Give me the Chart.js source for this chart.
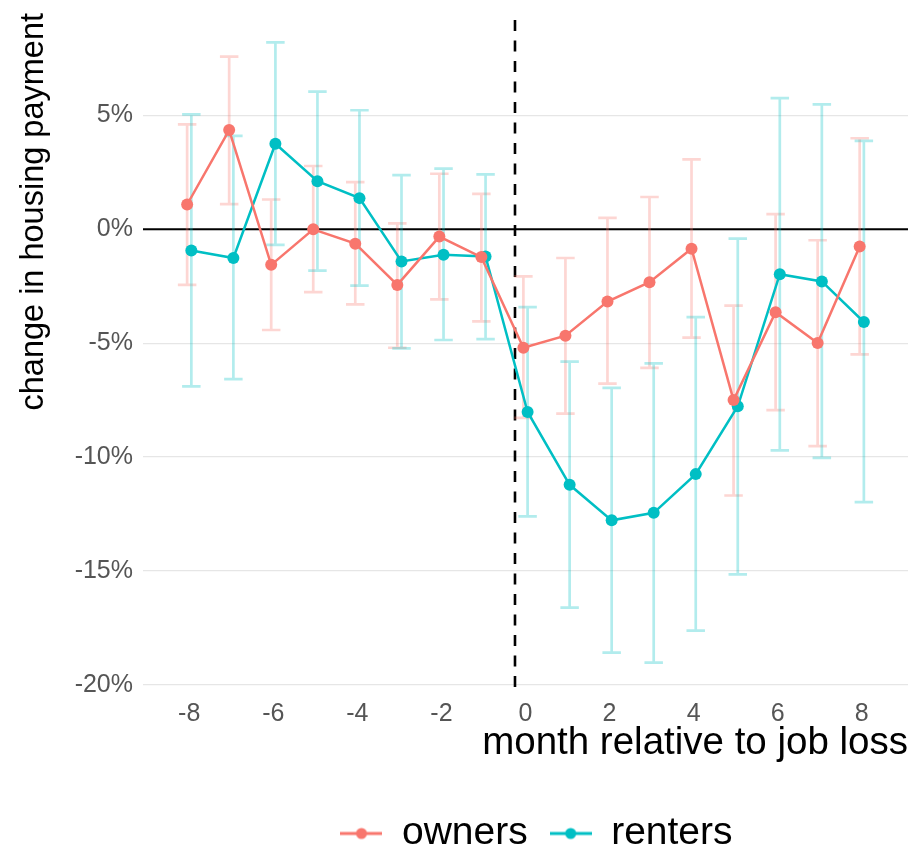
<!DOCTYPE html>
<html>
<head>
<meta charset="utf-8">
<script src="https://cdn.jsdelivr.net/npm/chart.js@4.4.1/dist/chart.umd.min.js"></script>
<style>
  html, body { margin: 0; padding: 0; background: #ffffff; }
  #wrap { width: 915px; height: 853px; }
</style>
</head>
<body>
<div id="wrap"><canvas id="c" width="915" height="853"></canvas></div>
<script>
// ---- data (percent change in housing payment) ----
const months = [-8, -7, -6, -5, -4, -3, -2, -1, 0, 1, 2, 3, 4, 5, 6, 7, 8];
const ownersEst  = [1.09, 4.36, -1.56, 0.00, -0.63, -2.44, -0.32, -1.22, -5.20, -4.67, -3.17, -2.32, -0.85, -7.50, -3.64, -4.99, -0.75];
const ownersLow  = [-2.44, 1.11, -4.42, -2.76, -3.30, -5.20, -3.08, -4.04, -8.28, -8.09, -6.78, -6.08, -4.76, -11.69, -7.94, -9.52, -5.49];
const ownersHigh = [4.61, 7.58, 1.31, 2.78, 2.07, 0.26, 2.44, 1.56, -2.07, -1.26, 0.50, 1.42, 3.07, -3.35, 0.67, -0.48, 4.00];
const rentersEst  = [-0.93, -1.26, 3.76, 2.11, 1.37, -1.41, -1.12, -1.19, -8.02, -11.22, -12.78, -12.45, -10.75, -7.77, -1.97, -2.29, -4.07];
const rentersLow  = [-6.90, -6.58, -0.68, -1.81, -2.47, -5.23, -4.86, -4.82, -12.61, -16.61, -18.59, -19.03, -17.62, -15.15, -9.71, -10.04, -11.98];
const rentersHigh = [5.05, 4.10, 8.21, 6.05, 5.23, 2.38, 2.67, 2.41, -3.42, -5.81, -6.96, -5.89, -3.86, -0.41, 5.76, 5.49, 3.88];
const xTickValues = [-8, -6, -4, -2, 0, 2, 4, 6, 8];
const yTickValues = [5, 0, -5, -10, -15, -20];
const seriesNames = ['owners', 'renters'];
const jobLossMarker = -0.25;

// ---- styling ----
const OWN = '#F8766D', REN = '#00BFC4';
const OWN_ERR = 'rgba(248,118,109,0.30)', REN_ERR = 'rgba(0,191,196,0.30)';
const DODGE = 0.05, CAP = 0.22;
const FONT = "'Liberation Sans', Arial, sans-serif";

function pts(est, shift) { return months.map((m, i) => ({ x: m + shift, y: est[i] })); }

function legendIcon(color) {
  const c = document.createElement('canvas');
  c.width = 42; c.height = 14;
  const g = c.getContext('2d');
  g.strokeStyle = color; g.lineWidth = 3;
  g.beginPath(); g.moveTo(0, 7); g.lineTo(42, 7); g.stroke();
  g.fillStyle = color;
  g.beginPath(); g.arc(21, 7, 5.5, 0, Math.PI * 2); g.fill();
  return c;
}
const icons = [legendIcon(OWN), legendIcon(REN)];

const refLines = {
  id: 'refLines',
  afterLayout(chart) {
    const l = chart.legend;
    if (l) { l.left += 11; l.right += 11; l.top += 10; l.bottom += 10; }
  },
  beforeDatasetsDraw(chart) {
    const { ctx, chartArea: a, scales: { x, y } } = chart;
    ctx.save();
    const y0 = y.getPixelForValue(0);
    ctx.strokeStyle = '#000'; ctx.lineWidth = 2;
    ctx.beginPath(); ctx.moveTo(a.left, y0); ctx.lineTo(a.right, y0); ctx.stroke();
    const xv = x.getPixelForValue(jobLossMarker);
    ctx.setLineDash([11, 9.5]); ctx.lineWidth = 2.6;
    ctx.beginPath(); ctx.moveTo(xv, a.top + 7); ctx.lineTo(xv, a.bottom); ctx.stroke();
    ctx.setLineDash([]);
    const bars = [[ownersLow, ownersHigh, -DODGE, OWN_ERR], [rentersLow, rentersHigh, DODGE, REN_ERR]];
    ctx.lineWidth = 2.7;
    bars.forEach(([lo, hi, sh, col]) => {
      ctx.strokeStyle = col;
      months.forEach((m, i) => {
        const cx = x.getPixelForValue(m + sh);
        const xl = x.getPixelForValue(m + sh - CAP), xr = x.getPixelForValue(m + sh + CAP);
        const yl = y.getPixelForValue(lo[i]), yh = y.getPixelForValue(hi[i]);
        ctx.beginPath();
        ctx.moveTo(cx, yl); ctx.lineTo(cx, yh);
        ctx.moveTo(xl, yl); ctx.lineTo(xr, yl);
        ctx.moveTo(xl, yh); ctx.lineTo(xr, yh);
        ctx.stroke();
      });
    });
    ctx.restore();
  }
};

new Chart(document.getElementById('c'), {
  type: 'scatter',
  data: {
    datasets: [
      { label: seriesNames[0], data: pts(ownersEst, -DODGE), showLine: true,
        borderColor: OWN, backgroundColor: OWN, borderWidth: 2.5,
        pointRadius: 6, pointBorderWidth: 0, pointBackgroundColor: OWN },
      { label: seriesNames[1], data: pts(rentersEst, DODGE), showLine: true,
        borderColor: REN, backgroundColor: REN, borderWidth: 2.5,
        pointRadius: 6, pointBorderWidth: 0, pointBackgroundColor: REN }
    ]
  },
  options: {
    responsive: false,
    animation: false,
    devicePixelRatio: 1,
    layout: { padding: { left: 0, right: 7, top: 13, bottom: 0 } },
    plugins: {
      tooltip: { enabled: false },
      legend: {
        position: 'bottom',
        fullSize: false,
        labels: {
          usePointStyle: true,
          pointStyleWidth: 42,
          padding: 22,
          color: '#000',
          font: { family: FONT, size: 39 },
          generateLabels: (chart) => chart.data.datasets.map((d, i) => ({
            text: d.label, pointStyle: icons[i], fillStyle: d.borderColor,
            strokeStyle: d.borderColor, lineWidth: 0, hidden: false, datasetIndex: i, fontColor: '#000'
          }))
        }
      }
    },
    scales: {
      x: {
        type: 'linear', min: -9.1, max: 9.1,
        afterBuildTicks: s => { s.ticks = xTickValues.map(v => ({ value: v })); },
        afterFit: s => { s.height = 87; s.paddingLeft = 0; s.paddingRight = 0; },
        grid: { display: false, drawTicks: false },
        border: { display: false },
        ticks: { color: '#555', padding: 4, font: { family: FONT, size: 25 } },
        title: { display: true, text: 'month relative to job loss', align: 'end', color: '#000',
                 font: { family: FONT, size: 38.5 }, padding: { top: 0, bottom: 16 } }
      },
      y: {
        type: 'linear', min: -20.45, max: 9.5,
        afterBuildTicks: s => { s.ticks = yTickValues.map(v => ({ value: v })); },
        afterFit: s => { s.width = 143; s.paddingTop = 0; s.paddingBottom = 0; },
        grid: { color: '#E6E6E6', lineWidth: 1.3, drawTicks: false },
        border: { display: false },
        ticks: { color: '#555', padding: 10, font: { family: FONT, size: 25 }, callback: v => v + '%' },
        title: { display: true, text: 'change in housing payment', align: 'end', color: '#000',
                 font: { family: FONT, size: 32.5 }, padding: { top: 15, bottom: 0 } }
      }
    }
  },
  plugins: [refLines]
});
</script>
</body>
</html>
